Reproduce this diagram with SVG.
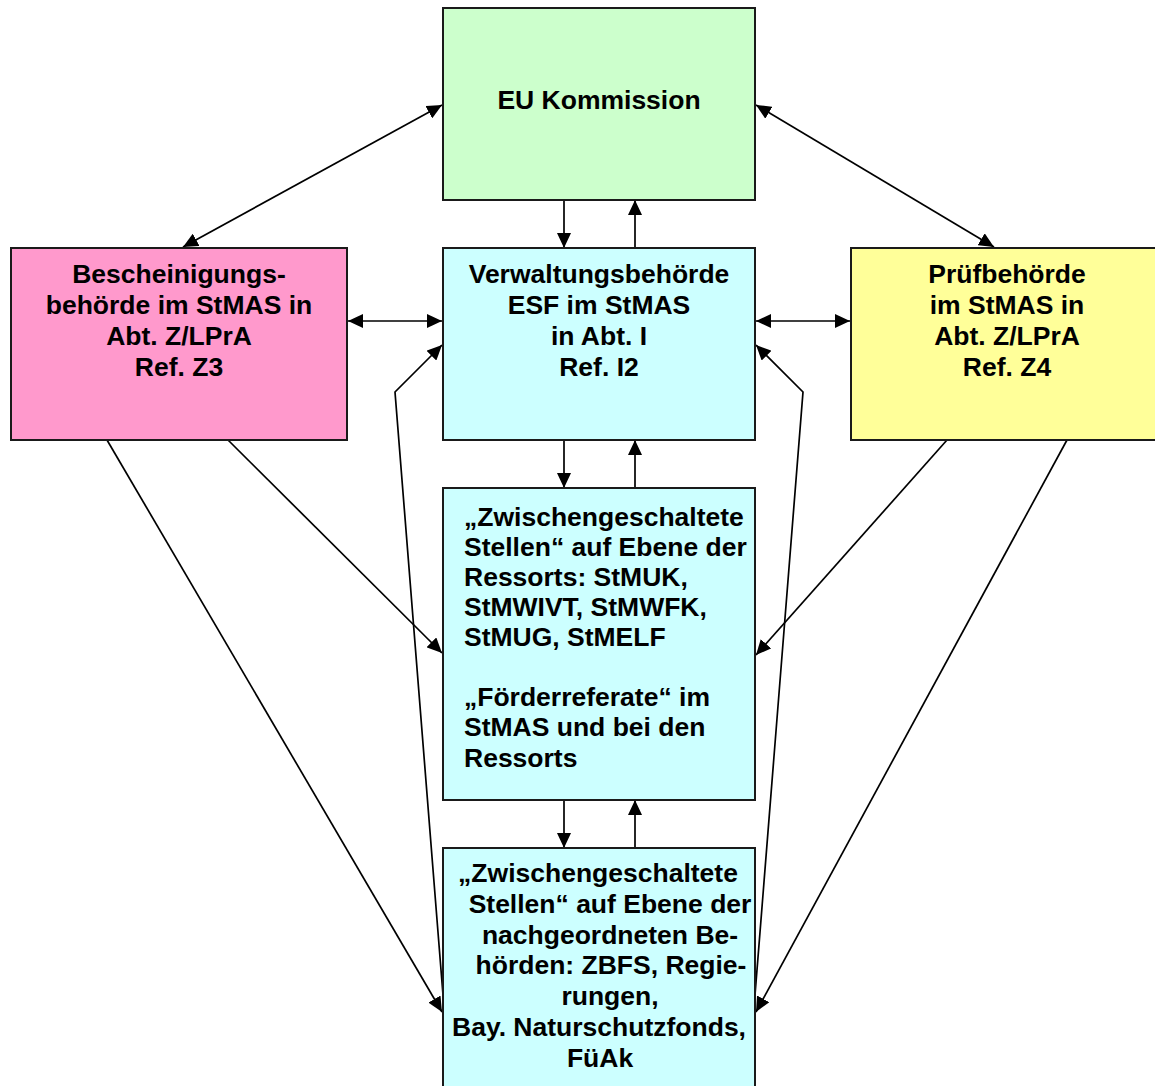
<svg xmlns="http://www.w3.org/2000/svg" width="1155" height="1086" viewBox="0 0 1155 1086">
<style>
.box{stroke:#1a1a1a;stroke-width:2}
.t{font-family:"Liberation Sans",Arial,sans-serif;font-weight:bold;font-size:26.5px;fill:#000}
.c{text-anchor:middle}
.ln{stroke:#000;stroke-width:1.7;fill:none}
</style>
<defs>
<marker id="ah" viewBox="0 0 15 14" refX="15" refY="7" markerWidth="15" markerHeight="14" markerUnits="userSpaceOnUse" orient="auto-start-reverse">
<path d="M0,0 L15,7 L0,14 z" fill="#000"/>
</marker>
</defs>
<rect width="1155" height="1086" fill="#fff"/>
<g id="connectors">
<line class="ln" x1="183" y1="247" x2="442" y2="105" marker-start="url(#ah)" marker-end="url(#ah)"/>
<line class="ln" x1="756" y1="105" x2="994" y2="247" marker-start="url(#ah)" marker-end="url(#ah)"/>
<line class="ln" x1="564" y1="200" x2="564" y2="248" marker-end="url(#ah)"/>
<line class="ln" x1="635" y1="248" x2="635" y2="200" marker-end="url(#ah)"/>
<line class="ln" x1="348" y1="321" x2="442" y2="321" marker-start="url(#ah)" marker-end="url(#ah)"/>
<line class="ln" x1="756" y1="321" x2="850" y2="321" marker-start="url(#ah)" marker-end="url(#ah)"/>
<line class="ln" x1="564" y1="440" x2="564" y2="488" marker-end="url(#ah)"/>
<line class="ln" x1="635" y1="488" x2="635" y2="440" marker-end="url(#ah)"/>
<line class="ln" x1="564" y1="800" x2="564" y2="848" marker-end="url(#ah)"/>
<line class="ln" x1="635" y1="848" x2="635" y2="800" marker-end="url(#ah)"/>
<line class="ln" x1="228" y1="440" x2="442" y2="653" marker-end="url(#ah)"/>
<line class="ln" x1="107" y1="440" x2="442" y2="1012" marker-end="url(#ah)"/>
<line class="ln" x1="947" y1="440" x2="756" y2="655" marker-end="url(#ah)"/>
<line class="ln" x1="1067" y1="440" x2="756" y2="1012" marker-end="url(#ah)"/>
<polyline class="ln" points="443,995 395,392 442,345" marker-end="url(#ah)"/>
<polyline class="ln" points="755,995 803,392 756,345" marker-end="url(#ah)"/>
</g>
<g id="eu">
<rect class="box" x="443" y="8" width="312" height="192" fill="#CCFFCC"/>
<text class="t c" x="599" y="109">EU Kommission</text>
</g>
<g id="bescheinigung">
<rect class="box" x="11" y="248" width="336" height="192" fill="#FF99CC"/>
<text class="t c" x="179" y="283">Bescheinigungs-</text>
<text class="t c" x="179" y="314">behörde im StMAS in</text>
<text class="t c" x="179" y="345">Abt. Z/LPrA</text>
<text class="t c" x="179" y="376">Ref. Z3</text>
</g>
<g id="verwaltung">
<rect class="box" x="443" y="248" width="312" height="192" fill="#CCFFFF"/>
<text class="t c" x="599" y="283">Verwaltungsbehörde</text>
<text class="t c" x="599" y="314">ESF im StMAS</text>
<text class="t c" x="599" y="345">in Abt. I</text>
<text class="t c" x="599" y="376">Ref. I2</text>
</g>
<g id="pruef">
<rect class="box" x="851" y="248" width="312" height="192" fill="#FFFF99"/>
<text class="t c" x="1007" y="283">Prüfbehörde</text>
<text class="t c" x="1007" y="314">im StMAS in</text>
<text class="t c" x="1007" y="345">Abt. Z/LPrA</text>
<text class="t c" x="1007" y="376">Ref. Z4</text>
</g>
<g id="zwischen1">
<rect class="box" x="443" y="488" width="312" height="312" fill="#CCFFFF"/>
<text class="t" x="464" y="526">„Zwischengeschaltete</text>
<text class="t" x="464" y="556">Stellen“ auf Ebene der</text>
<text class="t" x="464" y="586">Ressorts: StMUK,</text>
<text class="t" x="464" y="616">StMWIVT, StMWFK,</text>
<text class="t" x="464" y="646">StMUG, StMELF</text>
<text class="t" x="464" y="706">„Förderreferate“ im</text>
<text class="t" x="464" y="736">StMAS und bei den</text>
<text class="t" x="464" y="767">Ressorts</text>
</g>
<g id="zwischen2">
<rect class="box" x="443" y="848" width="312" height="260" fill="#CCFFFF"/>
<text class="t c" x="598" y="882">„Zwischengeschaltete</text>
<text class="t c" x="610" y="913">Stellen“ auf Ebene der</text>
<text class="t c" x="610" y="944">nachgeordneten Be-</text>
<text class="t c" x="611" y="974">hörden: ZBFS, Regie-</text>
<text class="t c" x="610" y="1005">rungen,</text>
<text class="t c" x="599" y="1036">Bay. Naturschutzfonds,</text>
<text class="t c" x="600" y="1067">FüAk</text>
</g>
</svg>
